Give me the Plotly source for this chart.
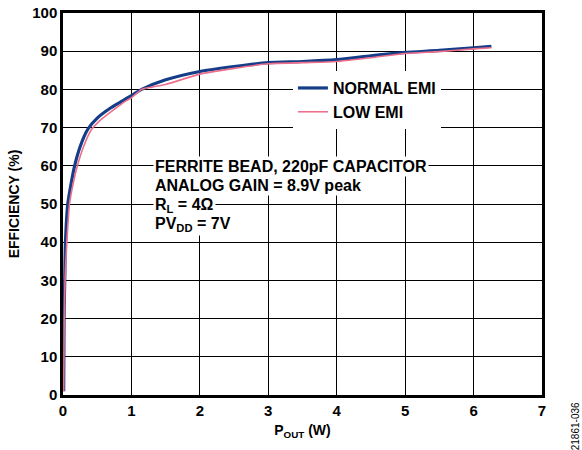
"""Efficiency vs output power, normal vs low EMI mode."""

import plotly.graph_objects as go

# Normal EMI curve
normal_pout = [0.01, 0.015, 0.025, 0.036, 0.07, 0.12, 0.17, 0.25, 0.36, 0.5, 0.7, 0.87, 1.0, 1.15, 1.5, 2.0, 2.5, 3.0, 3.5, 4.0, 4.5, 5.0, 5.5, 6.0, 6.26]
normal_eff = [1, 20, 30, 40, 50, 55.5, 60, 65, 69.5, 72.5, 75.2, 77.0, 78.4, 80.0, 82.5, 84.7, 86.0, 87.0, 87.3, 87.8, 88.8, 89.7, 90.2, 90.9, 91.3]

# Low EMI curve
low_pout = [0.01, 0.018, 0.03, 0.056, 0.095, 0.15, 0.21, 0.3, 0.41, 0.55, 0.75, 0.92, 1.0, 1.15, 1.3, 1.5, 2.0, 2.5, 3.0, 3.5, 4.0, 4.5, 5.0, 5.5, 6.0, 6.26]
low_eff = [1, 20, 30, 40, 50, 55.5, 60, 65, 69.3, 72.0, 74.8, 77.0, 77.8, 80.0, 80.6, 81.3, 84.0, 85.5, 86.7, 87.0, 87.3, 88.3, 89.4, 89.9, 90.6, 90.9]

x_ticks = [0, 1, 2, 3, 4, 5, 6, 7]
y_ticks = [0, 10, 20, 30, 40, 50, 60, 70, 80, 90, 100]

notes = [
    "FERRITE BEAD, 220pF CAPACITOR",
    "ANALOG GAIN = 8.9V peak",
    "R<sub>L</sub> = 4Ω",
    "PV<sub>DD</sub> = 7V",
]

FONT = "Liberation Sans, Arial, sans-serif"
BLUE = "#163d87"
PINK = "#ec6f8c"

fig = go.Figure()
fig.add_trace(
    go.Scatter(x=normal_pout, y=normal_eff, mode="lines", name="NORMAL EMI",
               line=dict(color=BLUE, width=3.2, shape="spline", smoothing=0.6))
)
fig.add_trace(
    go.Scatter(x=low_pout, y=low_eff, mode="lines", name="LOW EMI",
               line=dict(color=PINK, width=1.6, shape="spline", smoothing=0.6))
)

axis_common = dict(
    showgrid=True, gridcolor="black", gridwidth=1.4,
    showline=True, linecolor="black", linewidth=2.5, mirror=True,
    ticks="", zeroline=False, automargin=False,
    tickfont=dict(family=FONT, size=15, color="black", weight="bold"),
)

fig.update_layout(
    width=582, height=450,
    margin=dict(l=63, r=40, t=13, b=55),
    plot_bgcolor="white", paper_bgcolor="white",
    font=dict(family=FONT, color="black"),
    xaxis=dict(range=[0, 7], tickvals=x_ticks,
               title=dict(text="P<sub>OUT</sub> (W)", standoff=8,
                          font=dict(family=FONT, size=14, weight="bold")),
               **axis_common),
    yaxis=dict(range=[0, 100], tickvals=y_ticks,
               title=dict(text="EFFICIENCY (%)", standoff=10,
                          font=dict(family=FONT, size=14, weight="bold")),
               **axis_common),
    legend=dict(x=0.48, y=0.848, xanchor="left", yanchor="top",
                bgcolor="white", itemwidth=30, tracegroupgap=0,
                font=dict(family=FONT, size=16, color="black", weight="bold")),
)

line_y = [0.597, 0.549, 0.495, 0.447]
for text, yy in zip(notes, line_y):
    fig.add_annotation(
        text=text, xref="paper", yref="paper", x=0.188, y=yy,
        xanchor="left", yanchor="middle", showarrow=False,
        bgcolor="white", borderpad=1,
        font=dict(family=FONT, size=16, color="black", weight="bold"),
    )

fig.add_annotation(
    text="21861-036", xref="paper", yref="paper", x=1.07, y=-0.015,
    xanchor="center", yanchor="top", textangle=-90, showarrow=False,
    font=dict(family=FONT, size=10, color="black"),
)

fig.write_html("out.html", config={"displayModeBar": False},
               post_script="document.body.style.margin='0';")
